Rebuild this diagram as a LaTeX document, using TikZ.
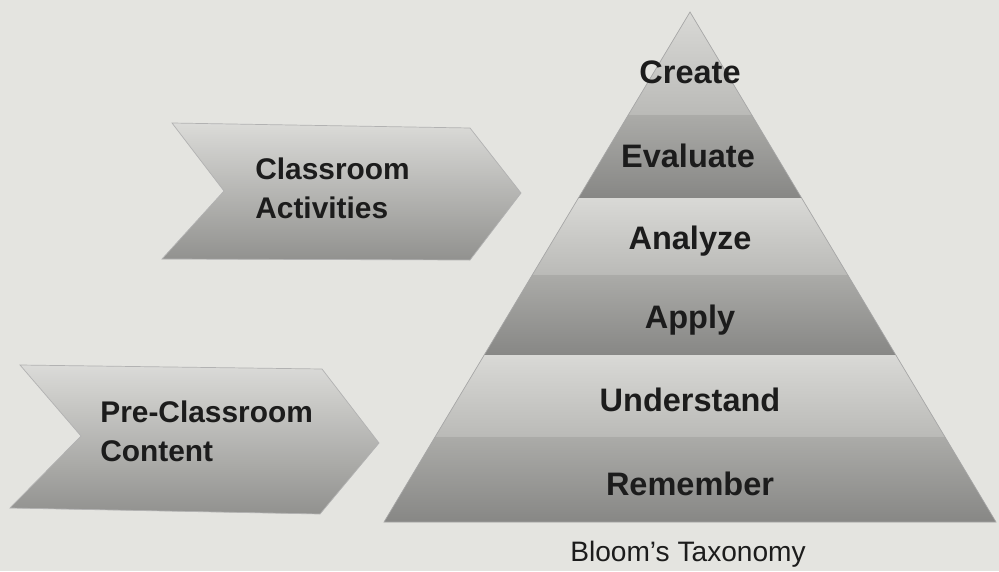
\documentclass[tikz,border=0pt]{standalone}
\usepackage{fontspec}
\setmainfont{Liberation Sans}

\definecolor{paper}{HTML}{E4E4E0}
\definecolor{lighttop}{HTML}{D9D9D6}
\definecolor{lightbot}{HTML}{BABAB7}
\definecolor{darktop}{HTML}{ABABA8}
\definecolor{darkbot}{HTML}{878785}
\definecolor{ink}{HTML}{1C1C1C}

\begin{document}
\begin{tikzpicture}[x=0.02cm,y=-0.02cm]
\tikzstyle{level}=[text=ink, font=\fontsize{18.5}{22}\selectfont\bfseries, inner sep=0pt, anchor=base]
\tikzstyle{task}=[text=ink, font=\fontsize{17}{22}\selectfont\bfseries, align=left, inner sep=0pt, anchor=base west]
\tikzstyle{chevron}=[top color=lighttop!95!white, bottom color=darktop!85!black, draw=gray!60, thin]

% page
\fill[paper] (0,0) rectangle (999,571);
\useasboundingbox (0,0) rectangle (999,571);

% pyramid bands
\begin{scope}
\clip (690,12) -- (996,522) -- (384,522) -- cycle;
\foreach \ya/\yb/\ca/\cb in {12/115/lighttop/lightbot, 115/198/darktop/darkbot,
  198/275/lighttop/lightbot, 275/355/darktop/darkbot,
  355/437/lighttop/lightbot, 437/522/darktop/darkbot}
  \shade[top color=\ca, bottom color=\cb] (380,\ya) rectangle (1000,\yb);
\end{scope}
\draw[gray!70, thin] (690,12) -- (996,522) -- (384,522) -- cycle;

\node[level] (create) at (690,84) {Create};
\node[level] (evaluate) at (688,167) {Evaluate};
\node[level] (analyze) at (690,249) {Analyze};
\node[level] (apply) at (690,328) {Apply};
\node[level] (understand) at (690,411) {Understand};
\node[level] (remember) at (690,495) {Remember};
\node[text=ink, font=\fontsize{16}{19}\selectfont, inner sep=0pt, anchor=base] (bloom) at (688,561) {Bloom's Taxonomy};

% chevrons
\shade[chevron] (172,123) -- (470,128) -- (521,193) -- (470,260) -- (162,259) -- (224,191) -- cycle;
\node[task] (activities) at (255,218) {Classroom\\Activities};

\shade[chevron] (20,365) -- (322,369) -- (379,443) -- (320,514) -- (10,508) -- (81,436) -- cycle;
\node[task] (content) at (100,461) {Pre-Classroom\\Content};

\end{tikzpicture}
\end{document}
